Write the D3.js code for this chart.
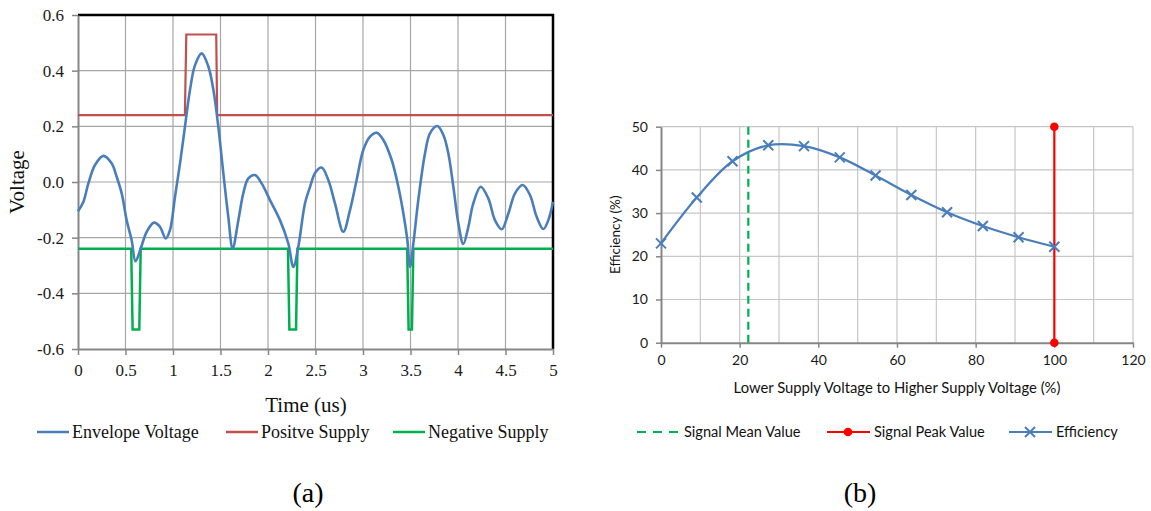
<!DOCTYPE html>
<html>
<head>
<meta charset="utf-8">
<script src="https://cdn.jsdelivr.net/npm/d3@7"></script>
<style>
  html, body { margin: 0; padding: 0; background: #fff; }
  svg { display: block; }
</style>
</head>
<body>
<svg id="chart" width="1151" height="511"></svg>
<script>
'use strict';

////////// Data //////////

// (a) envelope voltage vs time (us)
const envTime = [0, 0.056, 0.109, 0.179, 0.267, 0.354, 0.407, 0.46, 0.512, 0.565, 0.605, 0.66, 0.723, 0.8, 0.863, 0.923, 0.968,
	1.021, 1.074, 1.126, 1.179, 1.232, 1.302, 1.372, 1.425, 1.477, 1.53, 1.582, 1.628, 1.688, 1.74, 1.793, 1.863, 1.933,
	2.021, 2.126, 2.214, 2.267, 2.319, 2.389, 2.44, 2.5, 2.565, 2.635, 2.705, 2.793, 2.863, 2.933, 3.003, 3.074, 3.144,
	3.214, 3.302, 3.372, 3.425, 3.467, 3.495, 3.53, 3.582, 3.653, 3.705, 3.782, 3.846, 3.898, 3.951, 4.004, 4.056, 4.109,
	4.161, 4.239, 4.319, 4.389, 4.46, 4.53, 4.6, 4.681, 4.758, 4.828, 4.898, 4.951, 5.0];
const envVolt = [-0.105, -0.072, -0.005, 0.061, 0.094, 0.067, 0.019, -0.041, -0.137, -0.209, -0.285, -0.239, -0.179, -0.146, -0.161, -0.203, -0.173,
	-0.053, 0.067, 0.199, 0.331, 0.42, 0.462, 0.415, 0.331, 0.199, 0.031, -0.125, -0.239, -0.137, -0.041, 0.013, 0.025, -0.005,
	-0.065, -0.137, -0.221, -0.305, -0.233, -0.077, -0.02, 0.035, 0.052, 0.007, -0.077, -0.179, -0.101, 0.007, 0.115, 0.163, 0.177,
	0.151, 0.079, -0.017, -0.113, -0.209, -0.305, -0.221, -0.065, 0.103, 0.175, 0.201, 0.169, 0.103, -0.017, -0.149, -0.223, -0.161,
	-0.077, -0.017, -0.059, -0.137, -0.17, -0.113, -0.041, -0.011, -0.047, -0.125, -0.169, -0.137, -0.071];

const posTime = [0, 1.125, 1.14, 1.455, 1.465, 5];
const posVolt = [0.24, 0.24, 0.53, 0.53, 0.24, 0.24];

const negTime = [0, 0.56, 0.575, 0.645, 0.66, 2.21, 2.225, 2.295, 2.31, 3.465, 3.48, 3.515, 3.53, 5];
const negVolt = [-0.24, -0.24, -0.53, -0.53, -0.24, -0.24, -0.53, -0.53, -0.24, -0.24, -0.53, -0.53, -0.24, -0.24];

const timeTicks = [0, 0.5, 1, 1.5, 2, 2.5, 3, 3.5, 4, 4.5, 5];
const voltTicks = [-0.6, -0.4, -0.2, 0, 0.2, 0.4, 0.6];
const legendA = ['Envelope Voltage', 'Positve Supply', 'Negative Supply'];

// (b) efficiency vs supply ratio (%)
const ratio = [0, 9.09, 18.18, 27.27, 36.36, 45.45, 54.55, 63.64, 72.73, 81.82, 90.91, 100];
const efficiency = [23.0, 33.6, 42.0, 45.7, 45.5, 42.9, 38.7, 34.2, 30.2, 27.0, 24.4, 22.2];
const meanValue = 22.2;
const peakValue = 100;
const effRange = [0, 50];
const ratioTicks = [0, 20, 40, 60, 80, 100, 120];
const effTicks = [0, 10, 20, 30, 40, 50];
const legendB = ['Signal Mean Value', 'Signal Peak Value', 'Efficiency'];

////////// Styles //////////
const serif = '"Liberation Serif", "Times New Roman", serif';
const sans = 'Lato, "Open Sans", sans-serif';
const blue = '#4a7ebb';
const red = '#c0504d';
const green = '#00b050';
const axisGray = '#868686';
const gridGray = '#a6a6a6';
const gridLight = '#c6c6c6';

const svg = d3.select('#chart');

////////////////////////////////////////////////////////////////
	// Chart (a)
////////////////////////////////////////////////////////////////
const xA = d3.scaleLinear().domain([0, 5]).range([78, 553]);
const yA = d3.scaleLinear().domain([-0.6, 0.6]).range([349, 15]);
const gA = svg.append('g').attr('class', 'chartA');

// grid
gA.append('g').selectAll('line')
	.data(timeTicks.slice(1, -1))
	.enter().append('line')
		.attr('x1', d => xA(d)).attr('x2', d => xA(d))
		.attr('y1', yA(-0.6)).attr('y2', yA(0.6))
		.attr('stroke', gridGray).attr('stroke-width', 1.2);
gA.append('g').selectAll('line')
	.data(voltTicks.slice(1, -1))
	.enter().append('line')
		.attr('x1', xA(0)).attr('x2', xA(5))
		.attr('y1', d => yA(d)).attr('y2', d => yA(d))
		.attr('stroke', gridGray).attr('stroke-width', 1.2);

// top and right frame
gA.append('path')
	.attr('d', `M${xA(0)},${yA(0.6)}H${xA(5)}V${yA(-0.6)}`)
	.attr('fill', 'none').attr('stroke', '#000').attr('stroke-width', 2.5);

// axes
const styleAxis = (g, fontSize) => {
	g.select('.domain').attr('stroke', axisGray).attr('stroke-width', 2);
	g.selectAll('.tick line').attr('stroke', axisGray).attr('stroke-width', 1.5);
	g.selectAll('.tick text').attr('fill', '#1a1a1a').style('font-size', fontSize);
};

gA.append('g')
	.attr('transform', `translate(${xA(0)},0)`)
	.call(d3.axisLeft(yA).tickValues(voltTicks).tickSize(6).tickSizeOuter(0).tickPadding(8).tickFormat(d => d.toFixed(1)))
	.call(g => g.style('font-family', serif))
	.call(g => styleAxis(g, '17px'));

gA.append('g')
	.attr('transform', `translate(0,${yA(-0.6)})`)
	.call(d3.axisBottom(xA).tickValues(timeTicks).tickSize(6).tickSizeOuter(0).tickPadding(9).tickFormat(d => String(d)))
	.call(g => g.style('font-family', serif))
	.call(g => styleAxis(g, '17px'));

// series
const lineA = d3.line().x(d => xA(d[0])).y(d => yA(d[1]));
gA.append('path')
	.datum(posTime.map((t, i) => [t, posVolt[i]]))
	.attr('d', lineA)
	.attr('fill', 'none').attr('stroke', red).attr('stroke-width', 2.2);
gA.append('path')
	.datum(negTime.map((t, i) => [t, negVolt[i]]))
	.attr('d', lineA)
	.attr('fill', 'none').attr('stroke', green).attr('stroke-width', 2.5);
gA.append('path')
	.datum(envTime.map((t, i) => [t, envVolt[i]]))
	.attr('d', lineA.curve(d3.curveCatmullRom))
	.attr('fill', 'none').attr('stroke', blue).attr('stroke-width', 2.6)
	.attr('stroke-linejoin', 'round');

// titles
gA.append('text')
	.attr('transform', `translate(24,${(yA(-0.6) + yA(0.6)) / 2}) rotate(-90)`)
	.attr('text-anchor', 'middle')
	.style('font', `21px ${serif}`).attr('fill', '#111')
	.text('Voltage');
gA.append('text')
	.attr('x', 306).attr('y', 412)
	.attr('text-anchor', 'middle')
	.style('font', `21px ${serif}`).attr('fill', '#111')
	.text('Time (us)');

// legend
const legA = gA.append('g').selectAll('g')
	.data(legendA)
	.enter().append('g')
		.attr('transform', (d, i) => `translate(${[37, 226, 393][i]},432)`);
legA.append('line')
	.attr('x1', 0).attr('x2', 32)
	.attr('stroke', (d, i) => [blue, red, green][i]).attr('stroke-width', 2.5);
legA.append('text')
	.attr('x', 35).attr('dy', '0.32em')
	.style('font', `18px ${serif}`).attr('fill', '#111')
	.text(d => d);

gA.append('text')
	.attr('x', 308).attr('y', 502)
	.attr('text-anchor', 'middle')
	.style('font', `28px ${serif}`).attr('fill', '#000')
	.text('(a)');

////////////////////////////////////////////////////////////////
	// Chart (b)
////////////////////////////////////////////////////////////////
const xB = d3.scaleLinear().domain([0, 120]).range([661, 1133]);
const yB = d3.scaleLinear().domain(effRange).range([342.7, 126.7]);
const gB = svg.append('g').attr('class', 'chartB');

// grid
gB.append('g').selectAll('line')
	.data(d3.range(10, 121, 10))
	.enter().append('line')
		.attr('x1', d => xB(d)).attr('x2', d => xB(d))
		.attr('y1', yB(0)).attr('y2', yB(50))
		.attr('stroke', gridLight).attr('stroke-width', 1.2);
gB.append('g').selectAll('line')
	.data(effTicks.slice(1))
	.enter().append('line')
		.attr('x1', xB(0)).attr('x2', xB(120))
		.attr('y1', d => yB(d)).attr('y2', d => yB(d))
		.attr('stroke', gridLight).attr('stroke-width', 1.2);

gB.append('g')
	.attr('transform', `translate(${xB(0)},0)`)
	.call(d3.axisLeft(yB).tickValues(effTicks).tickSize(5).tickSizeOuter(0).tickPadding(8).tickFormat(d => String(d)))
	.call(g => g.style('font-family', sans))
	.call(g => styleAxis(g, '14px'));
gB.append('g')
	.attr('transform', `translate(0,${yB(0)})`)
	.call(d3.axisBottom(xB).tickValues(ratioTicks).tickSize(5).tickSizeOuter(0).tickPadding(7).tickFormat(d => String(d)))
	.call(g => g.style('font-family', sans))
	.call(g => styleAxis(g, '14px'));

// mean value marker line
gB.append('line')
	.attr('x1', xB(meanValue)).attr('x2', xB(meanValue))
	.attr('y1', yB(effRange[0])).attr('y2', yB(effRange[1]))
	.attr('stroke', green).attr('stroke-width', 2.2).attr('stroke-dasharray', '8,5');

// peak value marker line
gB.append('line')
	.attr('x1', xB(peakValue)).attr('x2', xB(peakValue))
	.attr('y1', yB(effRange[0])).attr('y2', yB(effRange[1]))
	.attr('stroke', '#ff0000').attr('stroke-width', 2.2);
gB.append('g').selectAll('circle')
	.data(effRange)
	.enter().append('circle')
		.attr('cx', xB(peakValue)).attr('cy', d => yB(d))
		.attr('r', 4.3).attr('fill', '#ff0000');

// efficiency curve
const effData = ratio.map((r, i) => [r, efficiency[i]]);
gB.append('path')
	.datum(effData)
	.attr('d', d3.line().x(d => xB(d[0])).y(d => yB(d[1])).curve(d3.curveCatmullRom))
	.attr('fill', 'none').attr('stroke', blue).attr('stroke-width', 2.2);

const cross = (sel, s) => sel.append('path')
	.attr('d', `M${-s},${-s}L${s},${s}M${-s},${s}L${s},${-s}`)
	.attr('stroke', blue).attr('stroke-width', 2).attr('fill', 'none');
gB.append('g').selectAll('g')
	.data(effData)
	.enter().append('g')
		.attr('transform', d => `translate(${xB(d[0])},${yB(d[1])})`)
		.call(sel => cross(sel, 5));

// titles
gB.append('text')
	.attr('transform', `translate(620,${(yB(0) + yB(50)) / 2}) rotate(-90)`)
	.attr('text-anchor', 'middle')
	.style('font', `13.5px ${sans}`).attr('fill', '#111')
	.text('Efficiency (%)');
gB.append('text')
	.attr('x', 897).attr('y', 393)
	.attr('text-anchor', 'middle')
	.style('font', `14.8px ${sans}`).attr('fill', '#111')
	.text('Lower Supply Voltage to Higher Supply Voltage (%)');

// legend
const legB = gB.append('g').selectAll('g')
	.data(legendB)
	.enter().append('g')
		.attr('transform', (d, i) => `translate(${[637, 827, 1009][i]},432)`);
legB.append('line')
	.attr('x1', 0).attr('x2', 43)
	.attr('stroke', (d, i) => [green, '#ff0000', blue][i])
	.attr('stroke-width', 2.2)
	.attr('stroke-dasharray', (d, i) => i === 0 ? '9,7' : null);
legB.filter((d, i) => i === 1).append('circle')
	.attr('cx', 21).attr('r', 4.3).attr('fill', '#ff0000');
legB.filter((d, i) => i === 2).append('g')
	.attr('transform', 'translate(21,0)')
	.call(sel => cross(sel, 5));
legB.append('text')
	.attr('x', 47).attr('dy', '0.35em')
	.style('font', `14.6px ${sans}`).attr('fill', '#111')
	.text(d => d);

gB.append('text')
	.attr('x', 860).attr('y', 502)
	.attr('text-anchor', 'middle')
	.style('font', `28px ${serif}`).attr('fill', '#000')
	.text('(b)');
</script>
</body>
</html>
